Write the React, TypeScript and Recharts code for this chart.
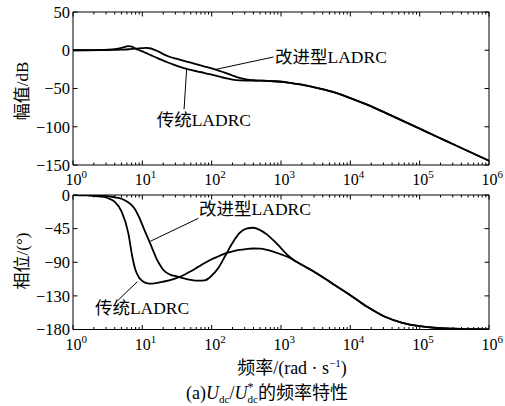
import React from 'react';
import { LineChart, Line, XAxis, YAxis, ReferenceLine, ReferenceDot } from 'recharts';

// frequency grid (rad/s)
const freq = [1, 1.58, 2.51, 3.16, 3.98, 5.01, 6.31, 7.08, 7.94, 8.91, 10, 11.2, 12.6, 14.1, 15.8, 17.8, 20, 25.1, 31.6, 39.8, 50.1, 63.1, 79.4, 100, 126, 158, 200, 251, 316, 398, 501, 631, 794, 1000, 1260, 1580, 2240, 3160, 5620, 10000, 17800, 31600, 56200, 100000, 178000, 316000, 562000, 1000000];

// magnitude (dB)
const magTrad = [0, 0.1, 0.4, 0.8, 1.5, 3, 5.3, 4.6, 2.2, 0.3, -1.5, -3.5, -5.5, -7.5, -9.5, -11.5, -13.5, -17, -20.5, -23.5, -25.8, -27.8, -29.8, -32, -34.2, -36.5, -38.3, -39.3, -39.6, -39.7, -39.8, -40, -40.5, -41.2, -42.3, -43.7, -46, -48.8, -54.5, -62.5, -71.5, -81.5, -92, -102.5, -113, -123.5, -134, -144.5];
const magImp = [0, 0, 0.1, 0.2, 0.4, 0.8, 1.3, 1.7, 2.1, 2.5, 2.8, 3.0, 2.6, 1.5, -0.3, -2.5, -5.0, -8.8, -11.3, -13.8, -16.3, -18.8, -21.3, -23.8, -26.5, -29.5, -33, -36, -38, -39.2, -39.7, -40, -40.5, -41.2, -42.3, -43.7, -46, -48.8, -54.5, -62.5, -71.5, -81.5, -92, -102.5, -113, -123.5, -134, -144.5];

// phase (deg)
const phTrad = [0, -0.5, -2, -4, -9, -22, -52, -80, -100, -110, -115, -117.5, -118.5, -118.5, -118, -117, -116, -114, -111, -107, -102, -96.5, -91, -86, -82, -78, -75.5, -73.5, -72.3, -71.6, -71.8, -73.5, -76, -79.5, -83, -88, -96, -104, -119, -134, -150, -163, -171, -175.5, -178, -179, -179.6, -180];
const phImp = [0, -0.2, -0.8, -1.5, -3, -5, -10, -14, -20, -29, -40, -51, -62, -73, -84, -93, -100, -106.5, -109, -111.5, -113.5, -114.7, -114.3, -108, -97, -81, -64, -51, -45, -43.8, -47, -53, -61.5, -71, -81, -88, -96, -104, -119, -134, -150, -163, -171, -175.5, -178, -179, -179.6, -180];

// axes
const majorTicks = [1, 10, 100, 1000, 10000, 100000, 1000000];
const majorExp = ['0', '1', '2', '3', '4', '5', '6'];
const minorTicks: number[] = [];
majorTicks.slice(0, 6).forEach((d) => { for (let m = 2; m <= 9; m++) minorTicks.push(d * m); });
const allXTicks = [...majorTicks, ...minorTicks].sort((a, b) => a - b);
const magTicks = [50, 0, -50, -100, -150];
const magTickLabels = ['50', '0', '\u221250', '\u2212100', '\u2212150'];
const phTicks = [0, -45, -90, -135, -180];
const phTickLabels = ['0', '\u221245', '\u221290', '\u2212130', '\u2212180'];

// annotations (data coords)
const magNotes = [
  { text: '改进型LADRC', f: 820, v: -17.0, lf1: 112, lv1: -25.2, lf2: 780, lv2: -8.8 },
  { text: '传统LADRC', f: 16.1, v: -99.3, lf1: 43.6, lv1: -24.2, lf2: 40, lv2: -77.1 },
];
const phNotes = [
  { text: '改进型LADRC', f: 65.8, v: -26.8, lf1: 64.3, lv1: -31.2, lf2: 13.0, lv2: -62 },
  { text: '传统LADRC', f: 2.07, v: -159.3, lf1: 8.46, lv1: -116.1, lf2: 4.5, lv2: -140.5 },
];

const magData = freq.map((f, i) => ({ f, trad: magTrad[i], imp: magImp[i] }));
const phData = freq.map((f, i) => ({ f, trad: phTrad[i], imp: phImp[i] }));

const SERIF = { fontFamily: 'Liberation Serif' };
const MIX = { fontFamily: 'Liberation Serif, Noto Sans CJK SC' };

const BottomTick = (props: any) => {
  const { x, y, payload } = props;
  const idx = majorTicks.indexOf(payload.value);
  const major = idx >= 0;
  return (
    <g>
      <line x1={x} x2={x} y1={y} y2={y - (major ? 4.5 : 2.5)} stroke="#000" strokeWidth={1} />
      {major && (
        <text x={x - 7.5} y={y + 20} textAnchor="start" style={SERIF} fontSize={16} fill="#000">
          10<tspan dy={-7} fontSize={11}>{majorExp[idx]}</tspan>
        </text>
      )}
    </g>
  );
};
const TopTick = (props: any) => {
  const { x, y, payload } = props;
  const major = majorTicks.indexOf(payload.value) >= 0;
  return <line x1={x} x2={x} y1={y} y2={y + (major ? 4.5 : 2.5)} stroke="#000" strokeWidth={1} />;
};
const makeLeftTick = (vals: number[], labels: string[]) => (props: any) => {
  const { x, y, payload } = props;
  const i = vals.indexOf(payload.value);
  return (
    <g>
      <line x1={x} x2={x + 4.5} y1={y} y2={y} stroke="#000" strokeWidth={1} />
      <text x={x - 3} y={y} dy="0.35em" textAnchor="end" style={SERIF} fontSize={16.5} fill="#000">
        {i >= 0 ? labels[i] : ''}
      </text>
    </g>
  );
};
const RightTick = (props: any) => {
  const { x, y } = props;
  return <line x1={x} x2={x - 4.5} y1={y} y2={y} stroke="#000" strokeWidth={1} />;
};

const NoteText = (text: string) => (p: any) => (
  <text x={p.cx} y={p.cy} textAnchor="start" style={MIX} fontSize={17.5} fill="#000">{text}</text>
);

const axisLine = { stroke: '#000', strokeWidth: 1 };

// plot area: x 73..489
function Panel({ data, height, plotTop, plotBottom, domain, yTicks, yLabels, notes }: any) {
  const margin = { top: plotTop - 10, right: 6, bottom: height - plotBottom - 30, left: 13 };
  return (
    <LineChart width={505} height={height} data={data} margin={margin}>
      <XAxis dataKey="f" type="number" scale="log" domain={[1, 1000000]} allowDataOverflow
        ticks={allXTicks} interval={0} height={30} tickSize={0} tickMargin={0}
        tickLine={false} axisLine={axisLine} tick={<BottomTick />} />
      <XAxis xAxisId="top" orientation="top" dataKey="f" type="number" scale="log" domain={[1, 1000000]} allowDataOverflow
        ticks={allXTicks} interval={0} height={10} tickSize={0} tickMargin={0}
        tickLine={false} axisLine={axisLine} tick={<TopTick />} />
      <YAxis type="number" domain={domain} allowDataOverflow ticks={yTicks} interval={0} width={60}
        tickSize={0} tickMargin={0} tickLine={false} axisLine={axisLine} tick={makeLeftTick(yTicks, yLabels)} />
      <YAxis yAxisId="right" orientation="right" type="number" domain={domain} allowDataOverflow ticks={yTicks} interval={0} width={10}
        tickSize={0} tickMargin={0} tickLine={false} axisLine={axisLine} tick={<RightTick />} />
      <Line dataKey="trad" stroke="#000" strokeWidth={1.8} dot={false} isAnimationActive={false} type="monotone" />
      <Line dataKey="imp" stroke="#000" strokeWidth={1.8} dot={false} isAnimationActive={false} type="monotone" />
      {notes.map((n: any, i: number) => (
        <ReferenceLine key={'l' + i} segment={[{ x: n.lf1, y: n.lv1 }, { x: n.lf2, y: n.lv2 }]} stroke="#000" strokeWidth={1} ifOverflow="visible" />
      ))}
      {notes.map((n: any, i: number) => (
        <ReferenceDot key={'t' + i} x={n.f} y={n.v} r={0} ifOverflow="visible" shape={NoteText(n.text)} />
      ))}
    </LineChart>
  );
}

export default function App() {
  return (
    <div style={{ position: 'absolute', left: 0, top: 0, width: 505, height: 406, background: '#fff' }}>
      <div style={{ position: 'absolute', left: 0, top: 0 }}>
        <Panel data={magData} height={200} plotTop={12} plotBottom={165}
          domain={[-150, 50]} yTicks={magTicks} yLabels={magTickLabels} notes={magNotes} />
      </div>
      <div style={{ position: 'absolute', left: 0, top: 185 }}>
        <Panel data={phData} height={180} plotTop={10} plotBottom={144.5}
          domain={[-180, 0]} yTicks={phTicks} yLabels={phTickLabels} notes={phNotes} />
      </div>
      <svg width={505} height={406} style={{ position: 'absolute', left: 0, top: 0, pointerEvents: 'none' }}>
        <text transform="translate(28,91) rotate(-90)" textAnchor="middle" style={MIX} fontSize={17} fill="#000">幅值/dB</text>
        <text transform="translate(28,261) rotate(-90)" textAnchor="middle" style={MIX} fontSize={17} fill="#000">相位/(°)</text>
        <text x={292} y={374} textAnchor="middle" style={MIX} fontSize={18} fill="#000">
          频率/(rad · s<tspan dy={-7} fontSize={11}>{'\u22121'}</tspan><tspan dy={7}>)</tspan>
        </text>
        <text x={267} y={399} textAnchor="middle" style={MIX} fontSize={18} fill="#000">
          (a)<tspan fontStyle="italic">U</tspan><tspan fontSize={11} dy={4}>dc</tspan><tspan dy={-4}>/</tspan><tspan fontStyle="italic">U</tspan><tspan fontSize={12} dy={-8}>*</tspan><tspan fontSize={11} dx={-6} dy={12}>dc</tspan><tspan dy={-4}>的频率特性</tspan>
        </text>
      </svg>
    </div>
  );
}
